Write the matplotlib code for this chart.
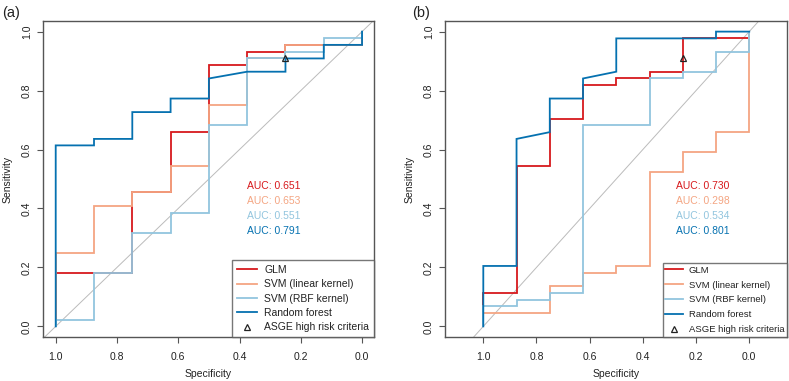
import matplotlib
matplotlib.use("Agg")
import matplotlib.pyplot as plt
from matplotlib.lines import Line2D

plt.rcParams['font.family'] = ['Liberation Sans', 'DejaVu Sans']

# ---------------- data ----------------
model_names = ["GLM", "SVM (linear kernel)", "SVM (RBF kernel)", "Random forest"]
model_colors = ["#D7191C", "#F4A582", "#92C5DE", "#0571B0"]
tick_values = [1.0, 0.8, 0.6, 0.4, 0.2, 0.0]
tick_labels = ["1.0", "0.8", "0.6", "0.4", "0.2", "0.0"]
ytick_values = [0.0, 0.2, 0.4, 0.6, 0.8, 1.0]
ytick_labels = ["0.0", "0.2", "0.4", "0.6", "0.8", "1.0"]

# Panel (a)
a_glm_spec = [1, 1, 0.75, 0.75, 0.625, 0.625, 0.5, 0.5, 0.375, 0.375, 0.25, 0.25, 0, 0]
a_glm_sens = [0, 0.182, 0.182, 0.455, 0.455, 0.659, 0.659, 0.886, 0.886, 0.932, 0.932, 0.955, 0.955, 1]
a_lin_spec = [1, 1, 0.875, 0.875, 0.75, 0.75, 0.625, 0.625, 0.5, 0.5, 0.375, 0.375, 0.25, 0.25, 0, 0]
a_lin_sens = [0, 0.25, 0.25, 0.409, 0.409, 0.455, 0.455, 0.545, 0.545, 0.75, 0.75, 0.909, 0.909, 0.955, 0.955, 1]
a_rbf_spec = [1, 1, 0.875, 0.875, 0.75, 0.75, 0.625, 0.625, 0.5, 0.5, 0.375, 0.375, 0.25, 0.25, 0.125, 0.125, 0, 0]
a_rbf_sens = [0, 0.023, 0.023, 0.182, 0.182, 0.318, 0.318, 0.386, 0.386, 0.682, 0.682, 0.909, 0.909, 0.932, 0.932, 0.977, 0.977, 1]
a_rf_spec = [1, 1, 0.875, 0.875, 0.75, 0.75, 0.625, 0.625, 0.5, 0.5, 0.375, 0.25, 0.25, 0.125, 0.125, 0, 0]
a_rf_sens = [0, 0.614, 0.614, 0.636, 0.636, 0.727, 0.727, 0.773, 0.773, 0.841, 0.864, 0.864, 0.909, 0.909, 0.955, 0.955, 1]
a_auc = ["0.651", "0.653", "0.551", "0.791"]
a_asge = (0.25, 0.909)

# Panel (b)
b_glm_spec = [1, 1, 0.875, 0.875, 0.75, 0.75, 0.625, 0.625, 0.5, 0.5, 0.375, 0.375, 0.25, 0.25, 0, 0]
b_glm_sens = [0, 0.114, 0.114, 0.545, 0.545, 0.705, 0.705, 0.818, 0.818, 0.841, 0.841, 0.864, 0.864, 0.977, 0.977, 1]
b_lin_spec = [1, 1, 0.75, 0.75, 0.625, 0.625, 0.5, 0.5, 0.375, 0.375, 0.25, 0.25, 0.125, 0.125, 0, 0]
b_lin_sens = [0, 0.045, 0.045, 0.136, 0.136, 0.182, 0.182, 0.205, 0.205, 0.523, 0.523, 0.591, 0.591, 0.659, 0.659, 1]
b_rbf_spec = [1, 1, 0.875, 0.875, 0.75, 0.75, 0.625, 0.625, 0.375, 0.375, 0.25, 0.25, 0.125, 0.125, 0, 0]
b_rbf_sens = [0, 0.068, 0.068, 0.091, 0.091, 0.114, 0.114, 0.682, 0.682, 0.841, 0.841, 0.864, 0.864, 0.932, 0.932, 1]
b_rf_spec = [1, 1, 0.875, 0.875, 0.75, 0.75, 0.625, 0.625, 0.5, 0.5, 0.125, 0.125, 0]
b_rf_sens = [0, 0.205, 0.205, 0.636, 0.659, 0.773, 0.773, 0.841, 0.864, 0.977, 0.977, 1, 1]
b_auc = ["0.730", "0.298", "0.534", "0.801"]
b_asge = (0.25, 0.909)

panels = [
    dict(tag="(a)", curves=[(a_glm_spec, a_glm_sens), (a_lin_spec, a_lin_sens),
                            (a_rbf_spec, a_rbf_sens), (a_rf_spec, a_rf_sens)],
         auc=a_auc, asge=a_asge, xlim=(1.0415, -0.039), auc_x=0.375,
         rect=[43 / 789, 44 / 381, 331 / 789, 316 / 381],
         leg_fs=7.5, leg_pad=0.45, leg_tpad=0.75, leg_ls=0.42),
    dict(tag="(b)", curves=[(b_glm_spec, b_glm_sens), (b_lin_spec, b_lin_sens),
                            (b_rbf_spec, b_rbf_sens), (b_rf_spec, b_rf_sens)],
         auc=b_auc, asge=b_asge, xlim=(1.144, -0.142), auc_x=0.275,
         rect=[445 / 789, 44 / 381, 342 / 789, 316 / 381],
         leg_fs=6.8, leg_pad=0.3, leg_tpad=0.55, leg_ls=0.62),
]
auc_y = [0.475, 0.425, 0.375, 0.325]

fig = plt.figure(figsize=(7.89, 3.81), dpi=100)
frame_col = "#555555"
fs = 7.5

for i, p in enumerate(panels):
    ax = fig.add_axes(p["rect"])
    ax.set_xlim(*p["xlim"])
    ax.set_ylim(-0.036, 1.036)
    ax.axline((1, 0), (0, 1), color="#BBBBBB", lw=0.7, zorder=1)
    for (sx, sy), col in zip(p["curves"], model_colors):
        ax.plot(sx, sy, color=col, lw=1.3, zorder=2, solid_joinstyle="miter")
    ax.plot([p["asge"][0]], [p["asge"][1]], marker="^", ms=5, mfc="none",
            mec="#222222", mew=0.9, ls="none", zorder=5)
    for txt, col, yy in zip(p["auc"], model_colors, auc_y):
        ax.text(p["auc_x"], yy, "AUC: " + txt, color=col, fontsize=fs,
                ha="left", va="center")
    ax.set_xticks(tick_values)
    ax.set_xticklabels(tick_labels)
    ax.set_yticks(ytick_values)
    ax.set_yticklabels(ytick_labels, rotation=90, va="center")
    ax.tick_params(direction="out", length=4, width=0.8, color=frame_col,
                   labelsize=fs, labelcolor="#222222")
    ax.tick_params(axis="x", pad=7)
    ax.tick_params(axis="y", pad=4)
    for s in ax.spines.values():
        s.set_color(frame_col)
        s.set_linewidth(1.0)
    ax.set_xlabel("Specificity", fontsize=fs, color="#222222", labelpad=5)
    ax.set_ylabel("Sensitivity", fontsize=fs, color="#222222", labelpad=7)

    handles = [Line2D([], [], color=c, lw=1.3) for c in model_colors]
    handles.append(Line2D([], [], marker="^", ms=5, mfc="none", mec="#222222",
                          mew=0.9, ls="none"))
    leg = ax.legend(handles, model_names + ["ASGE high risk criteria"],
                    loc="lower right", bbox_to_anchor=(1, 0), borderaxespad=0,
                    fontsize=p["leg_fs"], frameon=True, fancybox=False,
                    edgecolor=frame_col, handlelength=1.9,
                    handletextpad=p["leg_tpad"], labelspacing=p["leg_ls"],
                    borderpad=p["leg_pad"])
    leg.get_frame().set_linewidth(1.0)
    for t in leg.get_texts():
        t.set_color("#222222")
    fig.text(2 / 789 + (410 / 789) * i, 1 - 13 / 381, p["tag"], fontsize=10.5,
             ha="left", va="center", color="#222222")

fig.savefig("out.png", dpi=100)
